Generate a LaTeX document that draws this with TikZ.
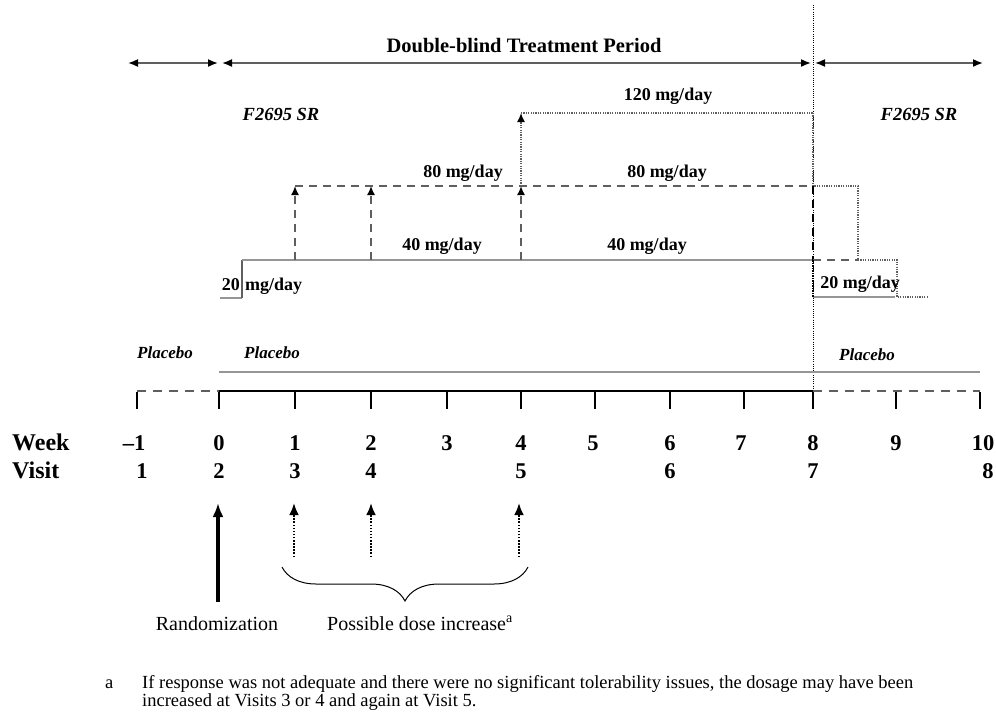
\documentclass[tikz,border=0pt]{standalone}
\usepackage{fontspec}
\setmainfont{Liberation Serif}
\usetikzlibrary{arrows.meta,decorations.pathreplacing}

\definecolor{lvgray}{RGB}{150,150,150}
\definecolor{dkgray}{RGB}{95,95,95}

\tikzset{
  txt/.style={inner sep=0pt, anchor=base},
  dose/.style={txt, font=\fontsize{18}{18}\selectfont\bfseries},
  drug/.style={txt, font=\fontsize{18.5}{18}\selectfont\bfseries\itshape},
  plac/.style={txt, font=\fontsize{17}{17}\selectfont\bfseries\itshape},
  num/.style={txt, font=\fontsize{22.5}{22}\selectfont\bfseries},
  rowlbl/.style={txt, anchor=base west, font=\fontsize{24}{24}\selectfont\bfseries},
  caplbl/.style={txt, font=\fontsize{20}{20}\selectfont},
  fnote/.style={txt, anchor=base west, font=\fontsize{18.5}{16}\selectfont},
  period/.style={draw=dkgray, line width=1.6pt, {Latex[length=10pt,width=8pt,black]}-{Latex[length=10pt,width=8pt,black]}},
  solidlvl/.style={draw=lvgray, line width=1.8pt},
  dashlvl/.style={draw=dkgray, line width=1.6pt, dash pattern=on 8pt off 6pt},
  dotlvl/.style={draw=dkgray, line width=1.5pt, dash pattern=on 1.2pt off 1.2pt},
  uptip/.style={-{Latex[length=9pt,width=8pt,black]}},
  axis/.style={draw=black, line width=1.8pt},
  axisdash/.style={draw=dkgray, line width=1.8pt, dash pattern=on 9pt off 7pt},
  sep/.style={draw=black, line width=0.9pt, dash pattern=on 1pt off 1.2pt},
}

\begin{document}
\begin{tikzpicture}[x=1pt,y=-1pt]
\useasboundingbox (0,0) rectangle (996,713);

% week positions on the time axis
\foreach \n/\x in {m1/137,0/219,1/295,2/371,3/447,4/521,5/595,6/670,7/744,8/813,9/896,10/980}{
  \coordinate (t\n) at (\x,391);
  \coordinate (b\n) at (\x,409);
}

% period arrows
\coordinate (pa1) at (128,63);  \coordinate (pa2) at (218,63);
\coordinate (pb1) at (222,63);  \coordinate (pb2) at (811,63);
\coordinate (pc1) at (815,63);  \coordinate (pc2) at (983,63);
\draw[period] (pa1) -- (pa2);
\draw[period] (pb1) -- (pb2);
\draw[period] (pc1) -- (pc2);
\node[txt, font=\fontsize{20.5}{20}\selectfont\bfseries] (dbl) at (524,52) {Double-blind Treatment Period};

% end of double-blind period
\coordinate (sepTop) at (813,5);
\coordinate (sepBot) at (813,396);
\draw[sep] (sepTop) -- (sepBot);

\node[drug] (drugL) at (281,120) {F2695 SR};
\node[drug] (drugR) at (919,120) {F2695 SR};

% dose levels
\coordinate (d20a) at (220,298);
\coordinate (d20b) at (242,298);
\coordinate (d40a) at (242,260);
\coordinate (d40e) at (813,260);
\coordinate (d80s1) at (295,260); \coordinate (d80e1) at (295,186);
\coordinate (d80s2) at (371,260); \coordinate (d80e2) at (371,186);
\coordinate (d80s3) at (521,260); \coordinate (d80e3) at (521,186);
\coordinate (d80e) at (813,186);
\coordinate (d120a) at (521,113);
\coordinate (d120e) at (813,113);

\draw[solidlvl] (d20a) -- (d20b);
\draw[solidlvl, draw=dkgray, line width=1.3pt] (d20b) -- (d40a);
\draw[solidlvl] (d40a) -- (d40e);
\draw[dashlvl, uptip] (d80s1) -- (d80e1);
\draw[dashlvl, uptip] (d80s2) -- (d80e2);
\draw[dashlvl, uptip] (d80s3) -- (d80e3);
\draw[dashlvl] (d80e1) -- (d80e);
\draw[dotlvl, uptip] (d80e3) -- (d120a);
\draw[dotlvl] (d120a) -- (d120e);

% taper after week 8
\coordinate (tp1) at (858,186);
\coordinate (tp2) at (858,260);
\coordinate (tp3) at (897,260);
\coordinate (tp4) at (897,297);
\coordinate (tp5) at (927,297);
\coordinate (tp6) at (813,297);
\coordinate (tp7) at (895,297);
\draw[dotlvl] (d120e) -- (d80e) -- (tp1) -- (tp2) -- (tp3) -- (tp4) -- (tp5);
\draw[dashlvl, draw=black] (d80e) -- (d40e);
\draw[dashlvl] (d40e) -- (tp2);
\draw[solidlvl] (tp6) -- (tp7);
\draw[draw=black, line width=1.8pt, dash pattern=on 1.5pt off 1pt] (d40e) -- (tp6);

% dose labels
\node[dose] (l120) at (668,100) {120 mg/day};
\node[dose] (l80a) at (463,177) {80 mg/day};
\node[dose] (l80b) at (667,177) {80 mg/day};
\node[dose] (l40a) at (442,250) {40 mg/day};
\node[dose] (l40b) at (647,250) {40 mg/day};
\node[dose, anchor=base east] (l20n) at (240,290) {20};
\node[dose, anchor=base west] (l20u) at (245,290) {mg/day};
\node[dose] (l20r) at (860,288) {20 mg/day};

% placebo
\node[plac] (pl1) at (165,358) {Placebo};
\node[plac] (pl2) at (272,358) {Placebo};
\node[plac] (pl3) at (867,360) {Placebo};
\coordinate (plA) at (219,372);
\coordinate (plB) at (980,372);
\draw[solidlvl] (plA) -- (plB);

% time axis
\draw[axisdash] (tm1) -- (t0);
\draw[axis] (t0) -- (t8);
\draw[axisdash] (t8) -- (t10);
\foreach \n in {m1,0,1,2,3,4,5,6,7,8,9,10}{
  \draw[axis] ([yshift=-0.9pt]t\n) -- (b\n);
}

% week and visit numbers
\node[rowlbl] (wk) at (12,450) {Week};
\node[rowlbl] (vs) at (12,478) {Visit};
\foreach \n/\x/\t in {m1/134/{–1},0/219/0,1/295/1,2/371/2,3/447/3,4/521/4,5/593/5,6/670/6,7/741/7,8/813/8,9/896/9,10/983/10}{
  \node[num] (wn\n) at (\x,450) {\t};
}
\foreach \n/\x/\t in {1/142/1,2/219/2,3/295/3,4/371/4,5/521/5,6/670/6,7/813/7,8/988/8}{
  \node[num] (vn\n) at (\x,478) {\t};
}

% randomization and possible dose increases
\coordinate (rz1) at (218,602); \coordinate (rz2) at (218,503);
\draw[black, line width=3.2pt, -{Latex[length=14pt,width=11pt]}] (rz1) -- (rz2);
\foreach \n/\x in {3/294,4/371,5/519}{
  \coordinate (di\n a) at (\x,557);
  \coordinate (di\n b) at (\x,503);
  \draw[black, line width=2.6pt, dash pattern=on 1.5pt off 1.6pt, -{Latex[length=12pt,width=10pt]}] (di\n a) -- (di\n b);
}
\coordinate (brL) at (282,567);
\coordinate (brR) at (528,567);
\draw[black, line width=1pt, decorate, decoration={brace, mirror, amplitude=34pt}] (brL) -- (brR);

\node[caplbl] (rand) at (217,630) {Randomization};
\node[caplbl] (pdi) at (420,630) {Possible dose increase\textsuperscript{a}};

% footnote
\node[fnote] (fnm) at (105,688) {a};
\node[fnote] (fnt1) at (142,688) {If response was not adequate and there were no significant tolerability issues, the dosage may have been};
\node[fnote] (fnt2) at (142,706) {increased at Visits 3 or 4 and again at Visit 5.};
\end{tikzpicture}
\end{document}
